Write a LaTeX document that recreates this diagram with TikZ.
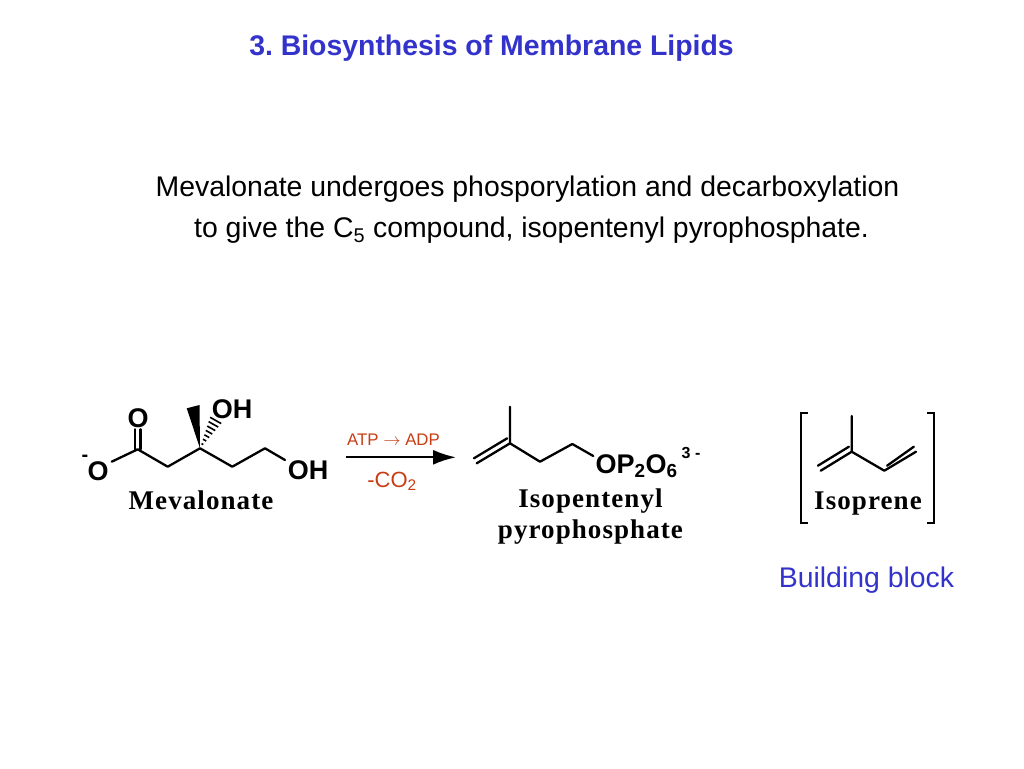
\documentclass[tikz,border=0pt]{standalone}
\usepackage{fontspec}
\setmainfont{Liberation Sans}
\newfontfamily\serifbf[LetterSpace=4]{Liberation Serif}
\usetikzlibrary{arrows.meta,calc}
\definecolor{slideblue}{RGB}{51,51,204}
\definecolor{rust}{RGB}{200,60,20}
\frenchspacing
\tikzset{
  txt/.style={inner sep=0pt,anchor=center,align=center},
  atom/.style={txt,font=\fontsize{27}{27}\selectfont\bfseries},
  captext/.style={txt,font=\fontsize{27}{31}\selectfont\serifbf\bfseries},
  bond/.style={line width=2.3pt,line cap=round,line join=round},
  bracket/.style={line width=2.3pt,line join=miter}
}
\begin{document}
\begin{tikzpicture}[x=1pt,y=-1pt]
\useasboundingbox (0,0) rectangle (1024,768);
\node[txt,text=slideblue,font=\fontsize{28.4}{28.4}\selectfont\bfseries] (title) at (491.5,48.5) {3. Biosynthesis of Membrane Lipids};
\node[txt,font=\fontsize{28.4}{41}\selectfont] (body) at (527.5,209.5) {Mevalonate undergoes phosporylation and decarboxylation\\\hspace*{8pt}to give the C\textsubscript{5} compound, isopentenyl pyrophosphate.};
% Mevalonate
\coordinate (m1) at (137.7,449.3);
\coordinate (m2) at (167.7,466.7);
\coordinate (m3) at (200,448.3);
\coordinate (m4) at (232.3,466.7);
\coordinate (m5) at (265,448.3);
\coordinate (mw1) at (186.7,408.3);
\coordinate (mw2) at (199.5,405);
\coordinate (mh) at (217,418);
\coordinate (me1) at (111.7,461.7);
\coordinate (me2) at (285,460);
\node[atom] (mO) at (138,418.5) {O};
\node[atom] (mOm) at (98,471) {O};
\node[txt,font=\fontsize{20}{20}\selectfont\bfseries] (mminus) at (85,458) {-};
\node[atom] (mOH1) at (232,409) {OH};
\node[atom] (mOH2) at (308,470) {OH};
\node[captext] (mcap) at (201,500) {Mevalonate};
\draw[bond] ($(m1)+(-2.4,0)$) -- ++(0,-20);
\draw[bond] ($(m1)+(2.8,0)$) -- ++(0,-20);
\draw[bond] (me1) -- (m1) -- (m2) -- (m3) -- (m4) -- (m5) -- (me2);
\fill (m3) -- (mw1) -- (mw2) -- cycle;
\foreach \t/\w in {0.14/1.0,0.27/1.9,0.40/2.8,0.53/3.7,0.66/4.6,0.79/5.5,0.92/6.4}
  \draw[line width=1.6pt] ($(m3)!\t!(mh)+(-0.87*\w,-0.49*\w)$) -- ($(m3)!\t!(mh)+(0.87*\w,0.49*\w)$);
% Arrow
\coordinate (a1) at (346,457.3);
\coordinate (a2) at (456,457.3);
\draw[line width=2.2pt,-{Latex[length=23pt,width=15pt]}] (a1) -- (a2);
\node[txt,text=rust,font=\fontsize{16.8}{16.8}\selectfont] (atp) at (393.5,440) {ATP $\rightarrow$ ADP};
\node[txt,text=rust,font=\fontsize{22}{22}\selectfont] (co2) at (392,481.5) {-CO\textsubscript{2}};
% Isopentenyl
\coordinate (i0) at (510,406.7);
\coordinate (i1) at (510,443.3);
\coordinate (i2) at (476.7,463.3);
\coordinate (i3) at (540,461.7);
\coordinate (i4) at (572.3,444);
\coordinate (i5) at (593.3,456);
\draw[bond] (i0) -- (i1) -- (i3) -- (i4) -- (i5);
\draw[bond] (i1) -- (i2);
\draw[bond] ($(i1)+(-2.8,-5)$) -- ($(i2)+(-2.8,-5)$);
\node[atom,anchor=west] (iO) at (595.5,466) {OP\textsubscript{2}O\textsubscript{6}};
\node[txt,font=\fontsize{16}{16}\selectfont\bfseries] (icharge) at (691,453) {3 -};
\node[captext] (icap) at (590.5,517) {Isopentenyl\\pyrophosphate};
% Isoprene
\coordinate (p0) at (851.7,416);
\coordinate (p1) at (851.7,451.7);
\coordinate (p2) at (820.7,470.7);
\coordinate (p3) at (884.3,470.7);
\coordinate (p4) at (916,451.7);
\draw[bond] (p0) -- (p1) -- (p3) -- (p4);
\draw[bond] (p1) -- (p2);
\draw[bond] ($(p1)+(-2.8,-5)$) -- ($(p2)+(-2.8,-5)$);
\draw[bond] ($(p3)+(2.8,-5)$) -- ($(p4)+(-2.2,-5)$);
\node[captext] (pcap) at (868,503.5) {Isoprene};
\coordinate (bl1) at (808,412.7);
\coordinate (bl2) at (801,412.7);
\coordinate (bl3) at (801,522.7);
\coordinate (bl4) at (808,522.7);
\coordinate (br1) at (927,412.7);
\coordinate (br2) at (934,412.7);
\coordinate (br3) at (934,522.7);
\coordinate (br4) at (927,522.7);
\draw[bracket] (bl1) -- (bl2) -- (bl3) -- (bl4);
\draw[bracket] (br1) -- (br2) -- (br3) -- (br4);
\node[txt,text=slideblue,font=\fontsize{28.4}{28.4}\selectfont] (bb) at (866.5,580.5) {Building block};
\end{tikzpicture}
\end{document}
